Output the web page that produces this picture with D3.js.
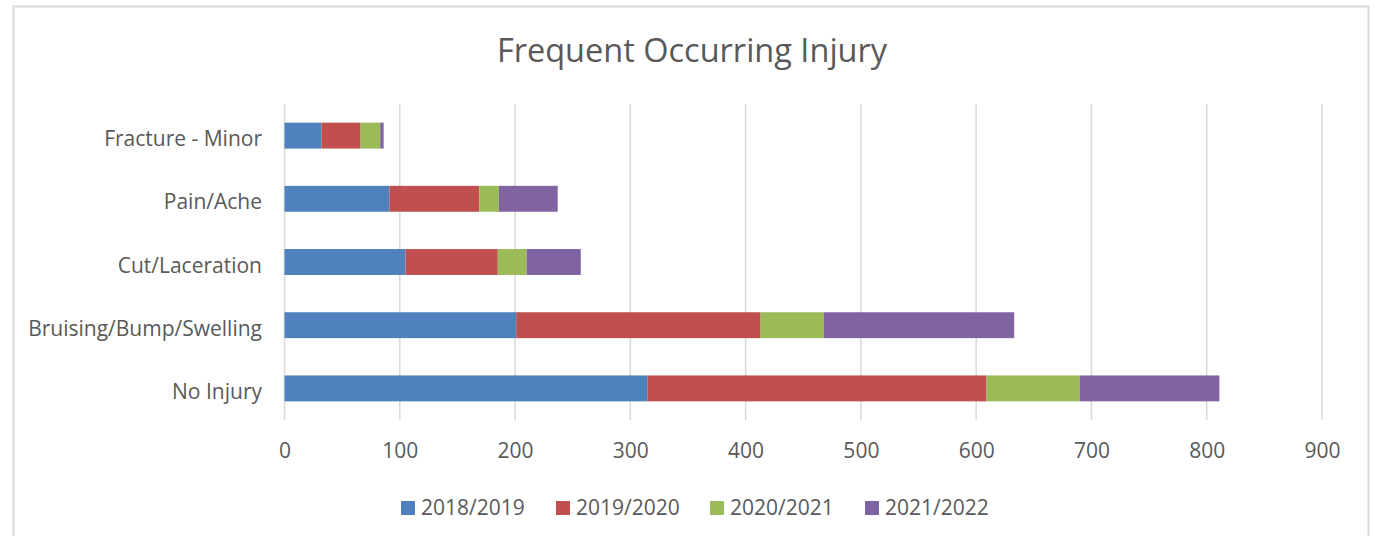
<!DOCTYPE html>
<html>
<head>
<meta charset="utf-8">
<script src="https://cdn.jsdelivr.net/npm/d3@7"></script>
<style>
  body { margin: 0; background: #fff; }
  text { font-family: "Open Sans", "Noto Sans", sans-serif; fill: #595959; }
</style>
</head>
<body>
<script>
var width = 1375;
var height = 536;

// data
var categories = ["Fracture - Minor", "Pain/Ache", "Cut/Laceration", "Bruising/Bump/Swelling", "No Injury"];
var seasons = ["2018/2019", "2019/2020", "2020/2021", "2021/2022"];
var colors = ["#4f81bd", "#c0504d", "#9bbb59", "#8064a2"];
var v2018 = [32, 91, 105, 201, 315];
var v2019 = [34, 78, 80, 212, 294];
var v2020 = [17, 17, 25, 55, 81];
var v2021 = [3, 51, 47, 165, 121];
var xTicks = [0, 100, 200, 300, 400, 500, 600, 700, 800, 900];

var rows = categories.map(function(c, i) {
    return { cat: c, "2018/2019": v2018[i], "2019/2020": v2019[i], "2020/2021": v2020[i], "2021/2022": v2021[i] };
});

var svg = d3.select("body").append("svg")
    .attr("width", width)
    .attr("height", height);

// chart frame
svg.append("path")
    .attr("d", "M13.5," + height + "V6.5H1368.5V" + height)
    .attr("fill", "none")
    .attr("stroke", "#d9d9d9")
    .attr("stroke-width", 2);

svg.append("text")
    .attr("x", 692)
    .attr("y", 62)
    .attr("text-anchor", "middle")
    .style("font-size", "32.5px")
    .text("Frequent Occurring Injury");

var x = d3.scaleLinear().domain([0, 900]).range([284.5, 1322]);
var y = d3.scaleBand().domain(categories).range([104, 420])
    .paddingInner(0.59).paddingOuter(0.295);

// gridlines
svg.append("g").selectAll("line")
    .data(xTicks)
    .enter().append("line")
        .attr("x1", function(d) { return x(d); })
        .attr("x2", function(d) { return x(d); })
        .attr("y1", 104)
        .attr("y2", 420)
        .attr("stroke", "#d9d9d9")
        .attr("stroke-width", 1.5);

var stack = d3.stack().keys(seasons);
var series = stack(rows);

svg.append("g").selectAll("g")
    .data(series)
    .enter().append("g")
        .attr("fill", function(d, i) { return colors[i]; })
    .selectAll("rect")
    .data(function(d) { return d; })
    .enter().append("rect")
        .attr("x", function(d) { return x(d[0]); })
        .attr("width", function(d) { return x(d[1]) - x(d[0]); })
        .attr("y", function(d) { return y(d.data.cat); })
        .attr("height", y.bandwidth());

// x axis labels
var xAxis = d3.axisBottom(x).tickValues(xTicks).tickSize(0).tickPadding(0);
var gx = svg.append("g")
    .attr("transform", "translate(0,443)")
    .call(xAxis);
gx.select(".domain").remove();
gx.selectAll("text")
    .attr("dy", "0.71em")
    .style("font-size", "21px")
    .style("font-family", "'Open Sans', sans-serif")
    .attr("fill", "#595959");

// category labels
var yAxis = d3.axisLeft(y).tickSize(0).tickPadding(0);
var gy = svg.append("g")
    .attr("transform", "translate(262,0)")
    .call(yAxis);
gy.select(".domain").remove();
gy.selectAll("text")
    .attr("dy", "0.5em")
    .style("font-size", "21px")
    .style("font-family", "'Open Sans', sans-serif")
    .attr("fill", "#595959");

// legend
var legendX = [401, 556, 710, 865];
var legend = svg.append("g").selectAll("g")
    .data(seasons)
    .enter().append("g")
        .attr("transform", function(d, i) { return "translate(" + legendX[i] + ",501)"; });
legend.append("rect")
    .attr("width", 14)
    .attr("height", 14)
    .attr("fill", function(d, i) { return colors[i]; });
legend.append("text")
    .attr("x", 20)
    .attr("y", 14)
    .style("font-size", "21px")
    .text(function(d) { return d; });
</script>
</body>
</html>
